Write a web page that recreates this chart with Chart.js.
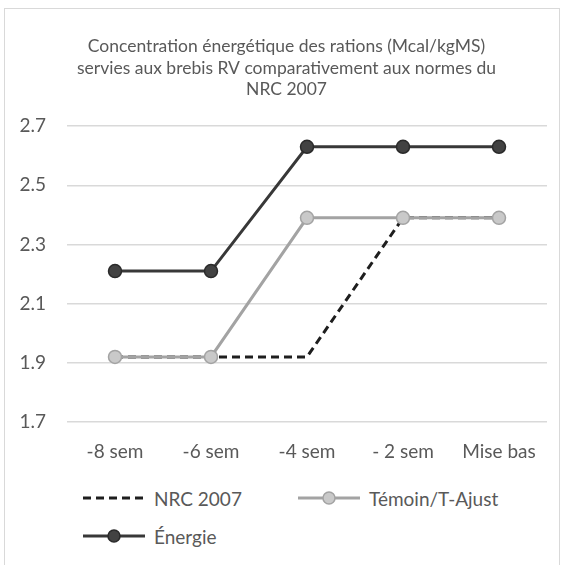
<!DOCTYPE html>
<html>
<head>
<meta charset="utf-8">
<script src="https://cdn.jsdelivr.net/npm/chart.js@4"></script>
<style>
  body { margin: 0; background: #fff; font-family: Lato, sans-serif; }
  #frame { position: absolute; left: 4px; top: 8px; width: 556px; height: 560px; border: 1px solid #d9d9d9; box-sizing: border-box; }
  #wrap { position: absolute; left: 0; top: 0; width: 562px; height: 470px; }
  #legend { position: absolute; left: 83px; top: 486px; display: grid; grid-template-columns: 215px 215px; row-gap: 14px; color: #595959; font-size: 19px; }
  .item { display: flex; align-items: center; height: 24px; }
  .item svg { margin-right: 9px; }
</style>
</head>
<body>
<div id="frame"></div>
<div id="wrap"><canvas id="c"></canvas></div>
<div id="legend"></div>
<script>
// donnees du graphique
const semaines = ['-8 sem', '-6 sem', '-4 sem', '- 2 sem', 'Mise bas']
const nrc2007 = [1.92, 1.92, 1.92, 2.39, 2.39]
const temoin = [1.92, 1.92, 2.39, 2.39, 2.39]
const energie = [2.21, 2.21, 2.63, 2.63, 2.63]
const yTicks = [1.7, 1.9, 2.1, 2.3, 2.5, 2.7]

const gris = '#595959'

// le titre d'Excel est centre un peu plus a droite
const decaleTitre = {
    id: 'decaleTitre',
    afterLayout: chart => { chart.titleBlock.left += 26 }
}

const ctx = document.getElementById('c').getContext('2d')
const chart = new Chart(ctx, {
    type: 'line',
    data: {
        labels: semaines,
        datasets: [
            {
                label: 'NRC 2007',
                data: nrc2007,
                borderColor: '#1e1e1e',
                borderWidth: 3,
                borderDash: [8, 5],
                pointRadius: 0,
                order: 1
            },
            {
                label: 'Témoin/T-Ajust',
                data: temoin,
                borderColor: '#a3a3a3',
                borderWidth: 3,
                pointRadius: 6.5,
                pointBackgroundColor: '#c9c9c9',
                pointBorderColor: '#a3a3a3',
                pointBorderWidth: 1.5,
                order: 0
            },
            {
                label: 'Énergie',
                data: energie,
                borderColor: '#383838',
                borderWidth: 3,
                pointRadius: 6.5,
                pointBackgroundColor: '#424242',
                pointBorderColor: '#2a2a2a',
                pointBorderWidth: 1.5,
                order: 0
            }
        ]
    },
    options: {
        responsive: true,
        maintainAspectRatio: false,
        animation: false,
        layout: { padding: { left: 0, right: 15, top: 0, bottom: 0 } },
        plugins: {
            legend: { display: false },
            tooltip: { enabled: false },
            title: {
                display: true,
                text: ['Concentration énergétique des rations (Mcal/kgMS)',
                       'servies aux brebis RV comparativement aux normes du',
                       'NRC 2007'],
                color: gris,
                font: { family: 'Lato', size: 17.5, weight: 'normal', lineHeight: 1.23 },
                padding: { top: 36, bottom: 25.5 }
            }
        },
        scales: {
            x: {
                offset: true,
                grid: { display: false, drawTicks: false },
                border: { display: false },
                ticks: { color: gris, font: { family: 'Lato', size: 19 }, padding: 18, maxRotation: 0 },
                afterFit: s => { s.height = 48 }
            },
            y: {
                min: 1.7,
                max: 2.7,
                grid: { color: '#d9d9d9', lineWidth: 1.5, drawTicks: false },
                border: { display: false },
                afterBuildTicks: s => { s.ticks = yTicks.map(v => ({ value: v })) },
                ticks: { color: gris, font: { family: 'Lato', size: 19 }, padding: 21, callback: v => v.toFixed(1) },
                afterFit: s => { s.width = 67 }
            }
        }
    },
    plugins: [decaleTitre]
})

// legende faite a la main (comme Excel)
const legend = document.getElementById('legend')
chart.data.datasets.forEach(ds => {
    let circle = ds.pointRadius ? `<circle cx="31" cy="8" r="6" fill="${ds.pointBackgroundColor}" stroke="${ds.pointBorderColor}" stroke-width="1.5"/>` : ''
    let dash = ds.borderDash ? `stroke-dasharray="8 5"` : ''
    legend.innerHTML += `<div class="item"><svg width="62" height="16"><line x1="0" y1="8" x2="62" y2="8" stroke="${ds.borderColor}" stroke-width="3" ${dash}/>${circle}</svg>${ds.label}</div>`
})
</script>
</body>
</html>
